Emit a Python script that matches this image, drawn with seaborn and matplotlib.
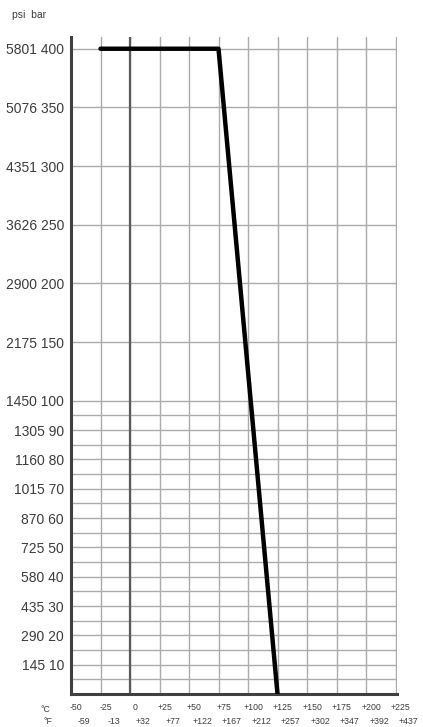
import numpy as np
import pandas as pd
import matplotlib
matplotlib.use("Agg")
import matplotlib.pyplot as plt
from matplotlib.transforms import ScaledTranslation
import seaborn as sns

# temperature axis
temp_c = [-50, -25, 0, 25, 50, 75, 100, 125, 150, 175, 200, 225]
temp_c_labels = ["-50", "-25", "0", "+25", "+50", "+75", "+100", "+125", "+150", "+175", "+200", "+225"]
temp_f_labels = ["-59", "-13", "+32", "+77", "+122", "+167", "+212", "+257", "+302", "+347", "+392", "+437"]

# pressure axis (labelled levels)
bar_levels = [10, 20, 30, 40, 50, 60, 70, 80, 90, 100, 150, 200, 250, 300, 350, 400]
psi_levels = [145, 290, 435, 580, 725, 870, 1015, 1160, 1305, 1450, 2175, 2900, 3626, 4351, 5076, 5801]

# rating curve
curve_c = [-25, 75, 125]
curve_bar = [400, 400, 0]


def fwd(y):
    y = np.asarray(y, dtype=float)
    return np.where(y <= 100, y * 2.5, 250 + (y - 100))


def inv(u):
    u = np.asarray(u, dtype=float)
    return np.where(u <= 250, u / 2.5, u - 150)


sns.set_theme(style="white")
plt.rcParams["font.family"] = ["Liberation Sans", "DejaVu Sans"]

W, H = 423, 727
fig = plt.figure(figsize=(W / 100, H / 100), dpi=100)
ax = fig.add_axes([71 / W, 1 - 694 / H, 325.7 / W, (694 - 37) / H])

ax.set_yscale("function", functions=(fwd, inv))
ax.set_xlim(-50, 226)
ax.set_ylim(0, 410)

# grid: every 5 bar below 100, every 50 bar above
grid_bar = list(range(0, 100, 5)) + [100, 150, 200, 250, 300, 350, 400]
lab_map = {b: f"{p} {b}" for b, p in zip(bar_levels, psi_levels)}
ax.set_yticks(grid_bar, [lab_map.get(b, "") for b in grid_bar])
ax.set_xticks(temp_c, temp_c_labels)

ax.grid(True, color="#ababab", linewidth=1.0)
ax.axvline(0, color="#5a5a5a", linewidth=1.6, zorder=1.5)

sns.lineplot(x=curve_c, y=curve_bar, sort=False, estimator=None,
             color="black", linewidth=3.2, ax=ax, zorder=3)

for side in ["top", "right"]:
    ax.spines[side].set_visible(False)
for side in ["left", "bottom"]:
    ax.spines[side].set_color("#3f3f3f")
    ax.spines[side].set_linewidth(2.2)

ax.tick_params(axis="y", length=0, pad=5, labelsize=10, labelcolor="#3c3c3c")
ax.tick_params(axis="x", length=0, pad=6.5, labelsize=6.3, labelcolor="#3c3c3c")
for lab in ax.get_xticklabels():
    lab.set_transform(lab.get_transform() + ScaledTranslation(5 / 100, 0, fig.dpi_scale_trans))

# Fahrenheit row
xtr = ax.get_xaxis_transform()
for c, f in zip(temp_c, temp_f_labels):
    ax.text(c, 0, f, transform=xtr + ScaledTranslation(13 / 100, -28 / 100, fig.dpi_scale_trans),
            ha="center", va="center", fontsize=6.3, color="#3c3c3c", clip_on=False)

fig.text(45 / W, 1 - 710 / H, "°C", ha="center", va="center", fontsize=6.3, color="#3c3c3c")
fig.text(48 / W, 1 - 722 / H, "°F", ha="center", va="center", fontsize=6.3, color="#3c3c3c")
fig.text(12 / W, 1 - 15 / H, "psi  bar", ha="left", va="center", fontsize=7.5, color="#3c3c3c")

fig.savefig("out.png", dpi=100)
